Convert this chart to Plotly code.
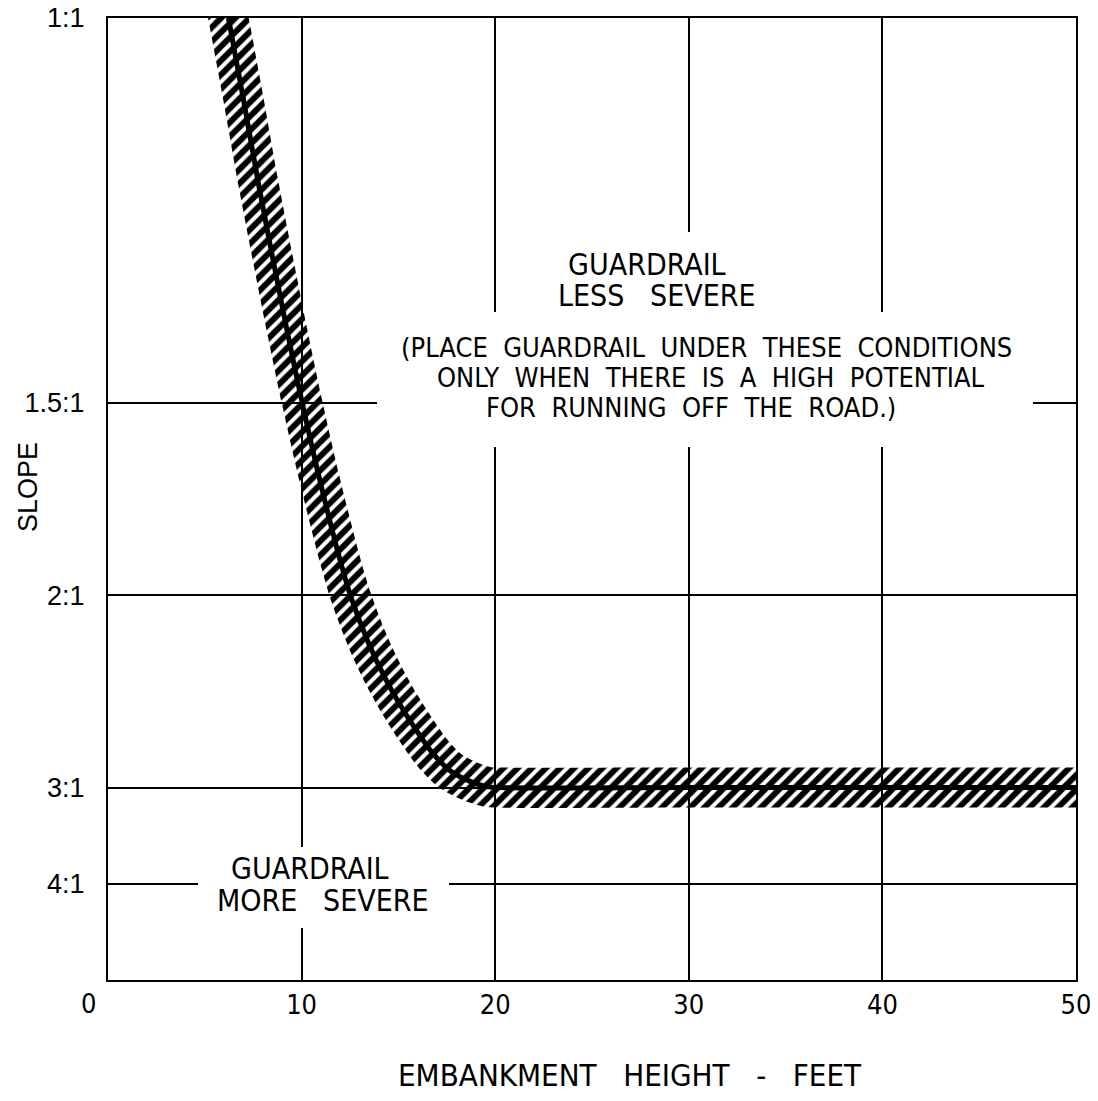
import numpy as np
import plotly.graph_objects as go

# ---------------- data ----------------
height_ft = [6.22, 7.00, 7.77, 8.60, 9.27, 10.02, 10.90, 11.98, 12.55, 13.46,
             14.28, 15.03, 15.91, 16.76, 17.64, 18.52, 19.55, 20.25, 30, 40, 50]
slope_pos = [10.0, 9.15, 8.28, 7.41, 6.73, 6.01, 5.23, 4.37, 3.98, 3.50,
             3.15, 2.88, 2.60, 2.36, 2.18, 2.08, 2.01, 2.0, 2.0, 2.0, 2.0]
slope_tick_pos = [10, 6, 4, 2, 1]
slope_tick_text = ["1:1", "1.5:1", "2:1", "3:1", "4:1"]
height_ticks = [10, 20, 30, 40, 50]

# ---------------- layout geometry ----------------
PAGE_W, PAGE_H = 1098, 1101
BODY = 8                     # default page margin of the html body
W, H = PAGE_W - 2 * BODY, PAGE_H - 2 * BODY
L_SCR, T_SCR, R_SCR, B_SCR = 108, 18, 1076, 980   # plot frame on screen
ML, MT = L_SCR - BODY, T_SCR - BODY
MR, MB = (BODY + W) - R_SCR, (BODY + H) - B_SCR
PW, PH = R_SCR - L_SCR, B_SCR - T_SCR
X_RANGE, Y_RANGE = [0, 50], [0, 10]
SX = PW / (X_RANGE[1] - X_RANGE[0])
SY = PH / (Y_RANGE[1] - Y_RANGE[0])

NARROW = "Liberation Sans Narrow, DejaVu Sans Condensed, Arial Narrow, sans-serif"
ARIAL = "Liberation Sans, Arial, sans-serif"


def px2x(p):
    return (p - L_SCR) / SX


def py2y(p):
    return (B_SCR - p) / SY


def px2paper(p):
    return (p - L_SCR) / PW


def py2paper(p):
    return (B_SCR - p) / PH


# ---------------- hatched band around the curve ----------------
cx = np.array(height_ft) * SX
cy = np.array(slope_pos) * SY
dx = np.gradient(cx)
dy = np.gradient(cy)
nn = np.hypot(dx, dy)
tx, ty = dx / nn, dy / nn
nx, ny = -ty, tx
cx_b = cx.copy()
cy_b = cy.copy()
cx_b[0] -= tx[0] * 14          # let the band run past the top frame
cy_b[0] -= ty[0] * 14
HALF = 20
ux = (cx_b + nx * HALF) / SX
uy = (cy_b + ny * HALF) / SY
lx = (cx_b - nx * HALF) / SX
ly = (cy_b - ny * HALF) / SY

fig = go.Figure()
fig.add_trace(go.Scatter(
    x=lx, y=ly, mode="lines",
    line=dict(width=0, shape="spline", smoothing=0.8, color="rgba(0,0,0,0)"),
    hoverinfo="skip", showlegend=False))
fig.add_trace(go.Scatter(
    x=ux, y=uy, mode="lines", fill="tonexty",
    line=dict(width=0, shape="spline", smoothing=0.8, color="rgba(0,0,0,0)"),
    fillcolor="rgba(0,0,0,0)",
    fillpattern=dict(shape="/", fgcolor="black", fgopacity=1,
                     bgcolor="rgba(0,0,0,0)", size=10, solidity=0.6),
    hoverinfo="skip", showlegend=False))

fig.add_trace(go.Scatter(
    x=height_ft, y=slope_pos, mode="lines",
    line=dict(color="black", width=5, shape="spline", smoothing=0.8),
    showlegend=False))

# ---------------- white gaps in the grid behind the texts ----------------
gaps = [
    (540, 232, 775, 320),
    (377, 312, 1033, 447),
    (198, 847, 449, 928),
]
shapes = []
for x0, y0, x1, y1 in gaps:
    shapes.append(dict(type="rect", xref="x", yref="y", layer="between",
                       x0=px2x(x0), x1=px2x(x1), y0=py2y(y1), y1=py2y(y0),
                       fillcolor="white", line=dict(width=0)))

# ---------------- texts ----------------
texts = [
    ("GUARDRAIL", 647, 264, 30),
    ("LESS   SEVERE", 657, 295, 30),
    ("(PLACE  GUARDRAIL  UNDER  THESE  CONDITIONS", 706, 347, 27),
    ("ONLY  WHEN  THERE  IS  A  HIGH  POTENTIAL", 711, 377, 27),
    ("FOR  RUNNING  OFF  THE  ROAD.)", 691, 407, 27),
    ("GUARDRAIL", 310, 868, 30),
    ("MORE   SEVERE", 323, 900, 30),
]
annotations = []
for t, x, y, s in texts:
    annotations.append(dict(text=t, x=px2x(x), y=py2y(y), xref="x", yref="y",
                            showarrow=False, xanchor="center", yanchor="middle",
                            font=dict(family=NARROW, size=s, color="black")))

annotations.append(dict(text="EMBANKMENT   HEIGHT   -   FEET", x=px2paper(630),
                        y=py2paper(1075), xref="paper", yref="paper",
                        showarrow=False, xanchor="center", yanchor="middle",
                        font=dict(family=NARROW, size=31, color="black")))
annotations.append(dict(text="SLOPE", x=px2paper(28), y=py2paper(487),
                        xref="paper", yref="paper", textangle=-90,
                        showarrow=False, xanchor="center", yanchor="middle",
                        font=dict(family=ARIAL, size=27, color="black")))
annotations.append(dict(text="0", x=px2paper(88), y=py2paper(1003),
                        xref="paper", yref="paper",
                        showarrow=False, xanchor="center", yanchor="middle",
                        font=dict(family=NARROW, size=27, color="black")))

fig.update_layout(
    width=W, height=H,
    margin=dict(l=ML, r=MR, t=MT, b=MB, pad=0, autoexpand=False),
    paper_bgcolor="white", plot_bgcolor="white",
    shapes=shapes, annotations=annotations,
    xaxis=dict(range=X_RANGE, tickvals=height_ticks, automargin=False,
               showgrid=True, gridcolor="black", gridwidth=1.5,
               showline=True, linecolor="black", linewidth=2, mirror=True,
               ticks="", zeroline=False, ticklabelstandoff=0,
               ticklabeloverflow="allow",
               tickfont=dict(family=NARROW, size=27, color="black")),
    yaxis=dict(range=Y_RANGE, tickvals=slope_tick_pos, ticktext=slope_tick_text,
               automargin=False,
               showgrid=True, gridcolor="black", gridwidth=1.5,
               showline=True, linecolor="black", linewidth=2, mirror=True,
               ticks="", zeroline=False, ticklabelstandoff=16,
               ticklabeloverflow="allow",
               tickfont=dict(family=ARIAL, size=27, color="black")),
)

fig.write_html("out.html")
